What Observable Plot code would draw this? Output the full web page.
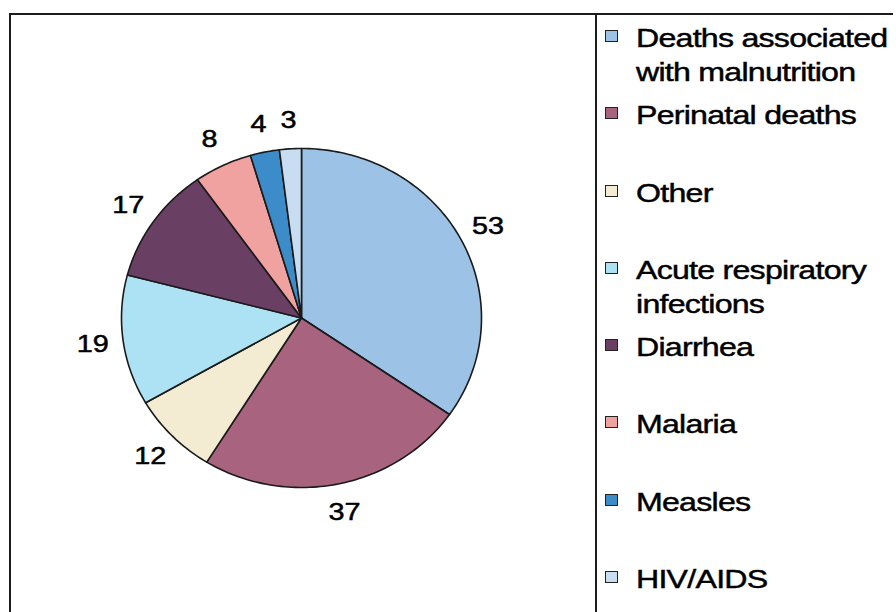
<!DOCTYPE html>
<html><head><meta charset="utf-8">
<script src="https://cdn.jsdelivr.net/npm/d3@7"></script>
<script src="https://cdn.jsdelivr.net/npm/@observablehq/plot@0.6"></script>
<style>
html,body{margin:0;padding:0;background:#fff;}
#wrap{position:relative;width:896px;height:612px;overflow:hidden;font-family:"Liberation Sans",Arial,sans-serif;background:#fff;}
#chart{position:absolute;left:0;top:0;}
#frame{position:absolute;left:9px;top:13px;width:882px;height:640px;border-top:2px solid #1c1c1c;border-left:2px solid #1c1c1c;}
#divider{position:absolute;left:595px;top:13px;width:2px;height:640px;background:#1c1c1c;}
#legend{position:absolute;left:605px;top:21px;}
.item{position:relative;height:77.3px;}
.sw{position:absolute;left:0;top:9px;width:11px;height:10px;border:1.5px solid #222;}
.lab{position:absolute;left:31px;top:0;width:240px;font-size:25.5px;line-height:34px;color:#000;letter-spacing:-0.6px;transform:scaleX(1.26);transform-origin:0 0;-webkit-text-stroke:0.45px #000;}
</style>
</head><body>
<div id="wrap">
  <div id="chart"></div>
  <div id="frame"></div>
  <div id="divider"></div>
  <div id="legend"></div>
</div>
<script>
const categories = ["Deaths associated with malnutrition","Perinatal deaths","Other","Acute respiratory infections","Diarrhea","Malaria","Measles","HIV/AIDS"];
const values = [53, 37, 12, 19, 17, 8, 4, 3];
const colors = ["#9cc3e6","#a8637f","#f3ecd2","#ace2f3","#6a3f64","#f0a2a1","#3b8cc9","#c8ddf2"];

const arcs = d3.pie().sort(null).value(d => d)(values);
const slicePts = [];
const labels = [];
arcs.forEach((a, i) => {
  const n = Math.max(2, Math.ceil((a.endAngle - a.startAngle) / 0.02));
  slicePts.push({cat: categories[i], x: 0, y: 0});
  for (let k = 0; k <= n; k++) {
    const t = a.startAngle + (a.endAngle - a.startAngle) * k / n;
    slicePts.push({cat: categories[i], x: Math.sin(t), y: Math.cos(t)});
  }
  const m = (a.startAngle + a.endAngle) / 2;
  labels.push({v: String(values[i]), x: 1.17 * Math.sin(m), y: 1.17 * Math.cos(m)});
});

const svg = Plot.plot({
  width: 896,
  height: 612,
  margin: 0,
  style: {fontFamily: "Liberation Sans, Arial, sans-serif", background: "transparent"},
  x: {domain: [-1, 1], range: [121, 481], axis: null},
  y: {domain: [-1, 1], range: [487, 148], axis: null},
  color: {domain: categories, range: colors},
  marks: [
    Plot.line(slicePts, {x: "x", y: "y", z: "cat", fill: "cat", stroke: "#1a1a1a", strokeWidth: 1.6, curve: "linear-closed"}),
    Plot.text(labels, {x: "x", y: "y", text: "v", fontSize: 24, fill: "#000", stroke: "#000", strokeWidth: 0.5})
  ]
});
// stretch label glyphs horizontally like the reference
svg.querySelectorAll('g[aria-label="text"] text').forEach(t => {
  const x = t.getAttribute("x"), y = t.getAttribute("y");
  if (x != null && y != null) {
    t.removeAttribute("x"); t.removeAttribute("y");
    t.setAttribute("transform", `translate(${x},${y}) scale(1.2,1)`);
  } else {
    t.setAttribute("transform", (t.getAttribute("transform") || "") + " scale(1.2,1)");
  }
});
document.getElementById("chart").appendChild(svg);

const legend = d3.select("#legend");
categories.forEach((c, i) => {
  const it = legend.append("div").attr("class", "item");
  it.append("div").attr("class", "sw").style("background", colors[i]);
  it.append("div").attr("class", "lab").text(c);
});
</script>
</body></html>
